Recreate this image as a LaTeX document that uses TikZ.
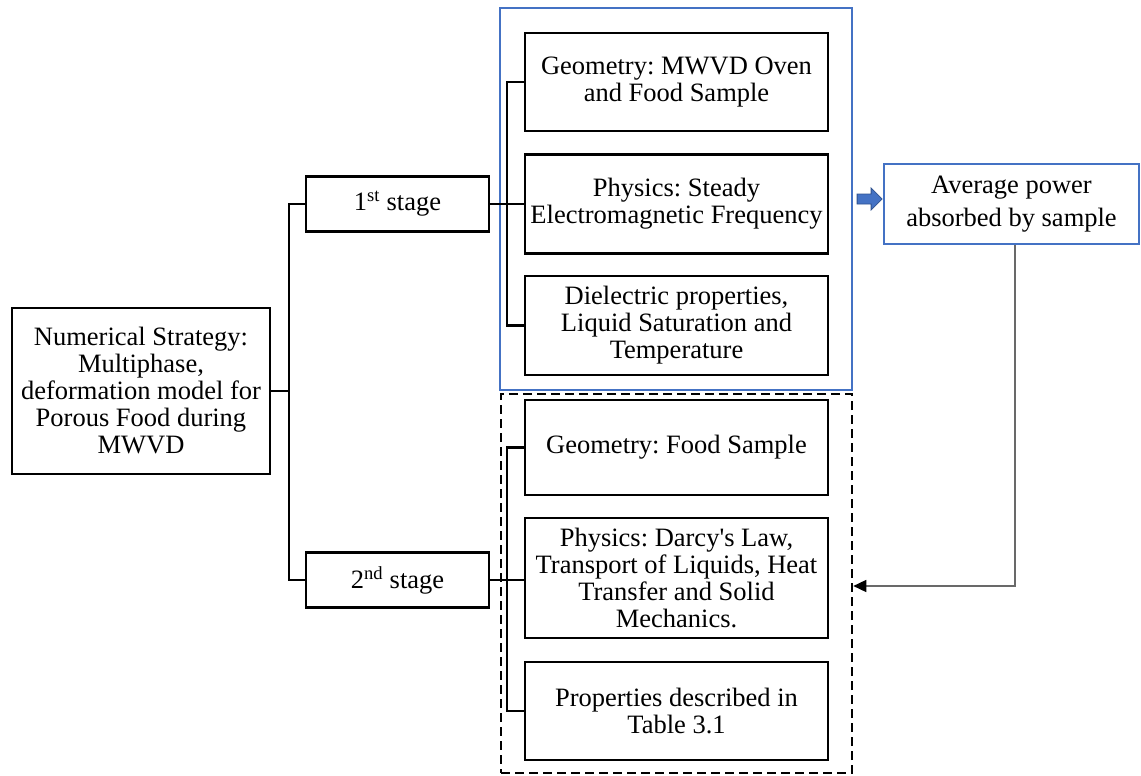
\documentclass[tikz,border=0pt]{standalone}
\usepackage{fontspec}
\setmainfont{Liberation Serif}[Ligatures=TeXOff]
\usetikzlibrary{arrows.meta,calc}
\definecolor{frameblue}{RGB}{68,114,196}
\definecolor{arrowedge}{RGB}{47,82,143}
\definecolor{linkgray}{RGB}{105,105,105}
\frenchspacing
\begin{document}
\begin{tikzpicture}[x=1pt,y=-1pt,
  txt/.style={font=\fontsize{26.5}{27}\selectfont},
  box/.style={txt, draw=black, line width=2.6pt, fill=white, inner sep=0pt, align=center},
  subbox/.style={box, minimum width=303pt},
  stagebox/.style={box, minimum width=183pt, minimum height=55pt},
  link/.style={draw=black, line width=2.4pt},
  bluebox/.style={draw=frameblue, line width=2.2pt, inner sep=0pt},
  dashframe/.style={draw=black, line width=2.6pt, dash pattern=on 9pt off 5pt, inner sep=0pt},
  feed/.style={draw=linkgray, line width=1.5pt, -{Triangle[length=13pt,width=12pt,fill=black,color=black]}},
  blockarrow/.style={fill=frameblue, draw=arrowedge, line width=0.8pt, line join=miter}
]
\useasboundingbox (0,0) rectangle (1141,776);

% stage frames
\node[bluebox, minimum width=352pt, minimum height=382pt] (frame1) at (676,199) {};
\node[dashframe, minimum width=351pt, minimum height=379pt] (frame2) at (676.5,583.5) {};

% main strategy box
\node[box, minimum width=258pt, minimum height=166pt] (main) at (141,391)
  {Numerical Strategy:\\Multiphase,\\deformation model for\\Porous Food during\\MWVD};

% stages
\node[stagebox] (s1) at (397.5,204) {1\textsuperscript{st} stage};
\node[stagebox] (s2) at (397.5,580) {2\textsuperscript{nd} stage};

% first stage components
\node[subbox, minimum height=98pt] (g1) at (676.5,82) {Geometry: MWVD Oven\\and Food Sample};
\node[subbox, minimum height=99pt] (p1) at (676.5,204) {Physics: Steady\\Electromagnetic Frequency};
\node[subbox, minimum height=99pt] (d1) at (676.5,325.5) {Dielectric properties,\\Liquid Saturation and\\Temperature};

% second stage components
\node[subbox, minimum height=95pt] (g2) at (676.5,447.5) {Geometry: Food Sample};
\node[subbox, minimum height=120pt] (p2) at (676.5,578) {Physics: Darcy's Law,\\Transport of Liquids, Heat\\Transfer and Solid\\Mechanics.};
\node[subbox, minimum height=98pt] (t2) at (676.5,711) {Properties described in\\Table 3.1};

% result box
\node[bluebox, txt, fill=white, align=center, minimum width=255pt, minimum height=80pt,
      font=\fontsize{26.5}{32.5}\selectfont] (avg) at (1011.5,204)
  {Average power\\absorbed by sample};

% bracket columns
\coordinate (L) at (289,0);
\coordinate (R) at (507,0);

\draw[link] (main.east) -- (main.east -| L);
\draw[link] (s1.west) -- (s1.west -| L) -- (s2.west -| L) -- (s2.west);

\draw[link] (g1.west) -- (g1.west -| R) -- (d1.west -| R) -- (d1.west);
\draw[link] (s1.east) -- (s1.east -| p1.west);

\draw[link] (g2.west) -- (g2.west -| R) -- (t2.west -| R) -- (t2.west);
\draw[link] (s2.east) -- (s2.east -| p2.west);

% block arrow handing stage 1 over to the result
\coordinate (ba) at ($(frame1.east)+(4,0)$);
\draw[blockarrow] (ba) ++(0,-5) -- ++(14,0) -- ++(0,-6) -- ++(11,11)
  -- ++(-11,11) -- ++(0,-6) -- ++(-14,0) -- cycle;

% result fed into stage 2
\coordinate (turn) at (1015,586);
\draw[feed] (turn |- avg.south) -- (turn) -- (turn -| frame2.east);
\end{tikzpicture}
\end{document}
